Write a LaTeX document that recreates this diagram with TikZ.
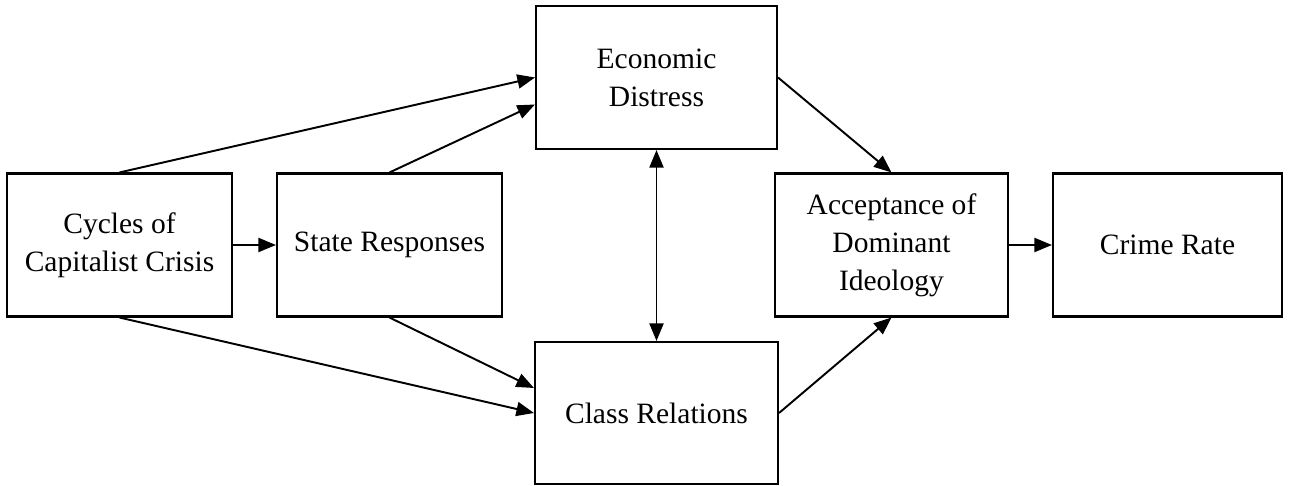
\documentclass[tikz,border=0pt]{standalone}
\usepackage{fontspec}
\setmainfont{Liberation Serif}
\usepackage{tikz}
\usetikzlibrary{arrows.meta, positioning, calc}
\definecolor{mydark}{RGB}{0,0,0}
\tikzset{
  block/.style={rectangle, draw=mydark, fill=white, align=center,
    minimum width=4.5cm, minimum height=2.86cm, inner sep=2pt,
    font=\fontsize{16.8}{21.6}\selectfont, line width=1.2pt},
  arrow/.style={-{Triangle[length=10pt, width=8pt]}, line width=1.1pt, color=mydark},
  dblarrow/.style={{Triangle[length=10pt, width=8pt]}-{Triangle[length=10pt, width=8pt]}, line width=1.1pt, color=mydark}
}
\begin{document}
\begin{tikzpicture}[x=0.02cm, y=-0.02cm]
  \useasboundingbox (0,0) rectangle (1303,486);

  % Boxes
  \node[block] (cycles) at (119.5,245) {Cycles of\\Capitalist Crisis};
  \node[block] (state) at (389.5,245) {State Responses};
  \node[block, minimum width=4.82cm] (econ) at (656.5,77.5) {Economic\\Distress};
  \node[block, minimum width=4.86cm, minimum height=2.84cm] (class) at (656.5,413) {Class Relations};
  \node[block, minimum width=4.66cm] (accept) at (891.5,245) {Acceptance of\\Dominant\\Ideology};
  \node[block, minimum width=4.58cm] (crime) at (1167.5,245) {Crime Rate};

  % Paths into economic distress and class relations
  \draw[arrow] (cycles.north) -- (econ.west);
  \draw[arrow] (state.north) -- ($(econ.west)+(0,27)$);
  \draw[arrow] (cycles.south) -- (class.west);
  \draw[arrow] (state.south) -- ($(class.west)+(0,-25)$);
  \draw[arrow] (cycles.east) -- (state.west);

  % Mutual link
  \draw[dblarrow] (econ.south) -- (class.north);

  % Paths to ideology and crime
  \draw[arrow] (econ.east) -- (accept.north);
  \draw[arrow] (class.east) -- (accept.south);
  \draw[arrow] (accept.east) -- (crime.west);
\end{tikzpicture}
\end{document}
